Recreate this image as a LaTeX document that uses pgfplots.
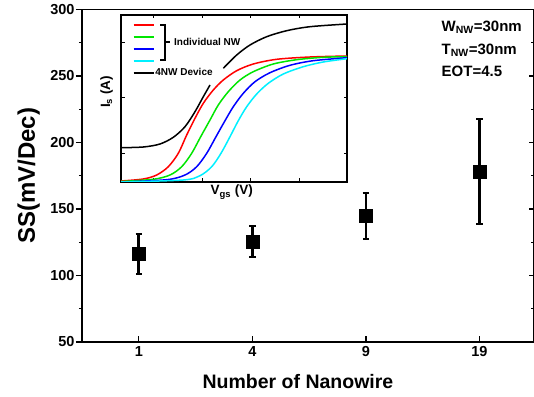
\documentclass[border=0pt]{standalone}
\usepackage{pgfplots}
\pgfplotsset{compat=1.18}
\usepackage{fontspec}
\setmainfont{Liberation Sans}
\definecolor{cgreen}{RGB}{0,230,0}
\definecolor{ccyan}{RGB}{0,240,255}
\definecolor{cblue}{RGB}{0,0,255}
\definecolor{cred}{RGB}{255,0,0}
\begin{document}
\begin{tikzpicture}[font=\bfseries]
% ---------------- main axis ----------------
\begin{axis}[
  at={(0,0)}, anchor=south west,
  scale only axis, width=452pt, height=332.5pt,
  xmin=0.5, xmax=4.48, ymin=50, ymax=300,
  xtick={1,2,3,4}, xticklabels={1,4,9,19},
  ytick={50,100,...,300}, minor ytick={75,125,...,275},
  xtick pos=bottom, ytick pos=left,
  xtick align=inside, ytick align=outside,
  major tick length=6pt, minor tick length=3pt,
  every tick/.style={black, line width=1.4pt},
  axis line style={line width=1.6pt},
  /pgf/number format/assume math mode=true,
  ticklabel style={font=\fontsize{14.5}{16}\selectfont\bfseries},
  xticklabel style={yshift=-1pt},
  yticklabel style={xshift=2pt},
  xlabel={Number of Nanowire},
  ylabel={SS(mV/Dec)},
  xlabel style={font=\fontsize{19.5}{22}\selectfont\bfseries, at={(axis description cs:0.5,0)}, anchor=base, yshift=-46pt, xshift=-10pt, inner sep=0pt},
  ylabel style={font=\fontsize{24}{26}\selectfont\bfseries, at={(axis description cs:-0.093,0.5)}, anchor=south, inner sep=0pt},
  clip=false,
]
\addplot[only marks, mark=square*, mark size=6.5pt, black,
  error bars/.cd, y dir=both, y explicit,
  error bar style={line width=2.6pt},
  error mark options={rotate=90, mark size=3.2pt, line width=2pt}]
  coordinates {
    (1,116.6) += (0,14.3) -= (0,15.6)
    (2,125.3) += (0,12.0) -= (0,11.3)
    (3,145.3) += (0,17.1) -= (0,17.5)
    (4,178.4) += (0,39.6) -= (0,40.0)
  };
\node[anchor=base west, font=\fontsize{15}{17}\selectfont\bfseries] at (rel axis cs:0.788,0.935) {W\textsubscript{NW}=30nm};
\node[anchor=base west, font=\fontsize{15}{17}\selectfont\bfseries] at (rel axis cs:0.788,0.866) {T\textsubscript{NW}=30nm};
\node[anchor=base west, font=\fontsize{15}{17}\selectfont\bfseries] at (rel axis cs:0.788,0.797) {EOT=4.5};
\end{axis}
% right-side inward ticks
\begin{axis}[
  at={(0,0)}, anchor=south west,
  scale only axis, width=452pt, height=332.5pt,
  xmin=0.5, xmax=4.48, ymin=50, ymax=300,
  hide x axis, axis y line*=right,
  ytick={50,100,...,300}, minor ytick={75,125,...,275},
  yticklabels={}, tick align=inside,
  major tick length=5pt, minor tick length=3pt,
  every tick/.style={black, line width=1.4pt},
  axis line style={line width=1.6pt},
]
\end{axis}
% ---------------- inset ----------------
\begin{axis}[
  at={(39pt,160pt)}, anchor=south west,
  scale only axis, width=226pt, height=167pt,
  xmin=0, xmax=226, ymin=0, ymax=167,
  xtick={32,81,129,178}, ytick={28,84,139},
  xticklabels={}, yticklabels={},
  tick align=inside, major tick length=3.5pt,
  every tick/.style={black, line width=1pt},
  axis line style={line width=1.3pt},
  axis background/.style={fill=white},
  xlabel={V\textsubscript{gs} (V)},
  ylabel={I\textsubscript{s} (A)},
  xlabel style={font=\fontsize{13.5}{15}\selectfont\bfseries, at={(axis description cs:0.49,0)}, anchor=north, yshift=-3pt, inner sep=0pt},
  ylabel style={font=\fontsize{13.5}{15}\selectfont\bfseries, at={(axis description cs:-0.035,0.54)}, anchor=south, inner sep=0pt},
  legend image code/.code={\draw[#1, line width=1.5pt] (0pt,0pt) -- (20pt,0pt);},
  legend cell align=left,
  legend style={at={(axis cs:11.7,163)}, anchor=north west, draw=none, fill=none,
    inner sep=0pt, row sep=0pt,
    font=\fontsize{10}{11}\selectfont\bfseries,
    nodes={inner sep=1pt, text height=7.5pt, text depth=2.5pt}},
  clip=true,
]
\addplot[cred, line width=1.5pt, smooth] coordinates {
  (0,1) (22.3,3) (35.7,7) (47.3,15.3) (57.3,28.7) (65.7,47) (74,63.7) (82.3,78.7)
  (92.3,92) (102.3,102) (115.7,111.3) (132.3,118) (155.7,122.7) (189,125) (226,126)};
\addlegendentry{\phantom{x}}
\addplot[cgreen, line width=1.5pt, smooth] coordinates {
  (0,0.5) (32.3,2.7) (49,7) (60.7,15.3) (70.7,28.7) (79.7,45.3) (89,62) (97.3,77)
  (107.3,90.3) (119,102) (132.3,110.3) (152.3,118) (175.7,122.3) (202.3,124.7) (226,125.3)};
\addlegendentry{\phantom{x}}
\addplot[cblue, line width=1.5pt, smooth] coordinates {
  (0,0) (45.7,2.3) (64,7) (75.7,15.3) (85.7,28.7) (95,45.3) (104,61.3) (112.3,75.3)
  (122.3,88.7) (134,100.3) (149,109.3) (169,116.7) (192.3,121.3) (226,124.3)};
\addlegendentry{\phantom{x}}
\addplot[ccyan, line width=1.5pt, smooth] coordinates {
  (0,0) (62.3,2) (79,6.3) (90.7,15.3) (100,28.7) (109,45.3) (117.3,61.3) (125.7,75.3)
  (135.7,88) (147.3,98.7) (162.3,108) (182.3,115.3) (202.3,120) (226,123.3)};
\addlegendentry{\phantom{x}}
\addplot[black, line width=1.5pt, smooth] coordinates {
  (0,34.3) (22.3,35) (39,38) (52.3,44.7) (64,55.3) (74,70.3) (82.3,85.3) (89,97)};
\addlegendentry{4NW Device}
\addplot[black, line width=1.5pt, smooth, forget plot] coordinates {
  (102.3,113.7) (115.7,127) (129,137) (145.7,145.3) (165.7,151.3) (189,155.3) (226,158)};
\draw[black, line width=1.3pt] (axis cs:39,157) -- (axis cs:44,157) -- (axis cs:44,122) -- (axis cs:39,122);
\draw[black, line width=1.3pt] (axis cs:44,140) -- (axis cs:49,140);
\node[anchor=west, inner sep=0pt, font=\fontsize{10}{11}\selectfont\bfseries] at (axis cs:53,140) {Individual NW};
\end{axis}
\pgfresetboundingbox
\useasboundingbox (-82pt,-54pt) rectangle (452pt,342pt);
\end{tikzpicture}
\end{document}
